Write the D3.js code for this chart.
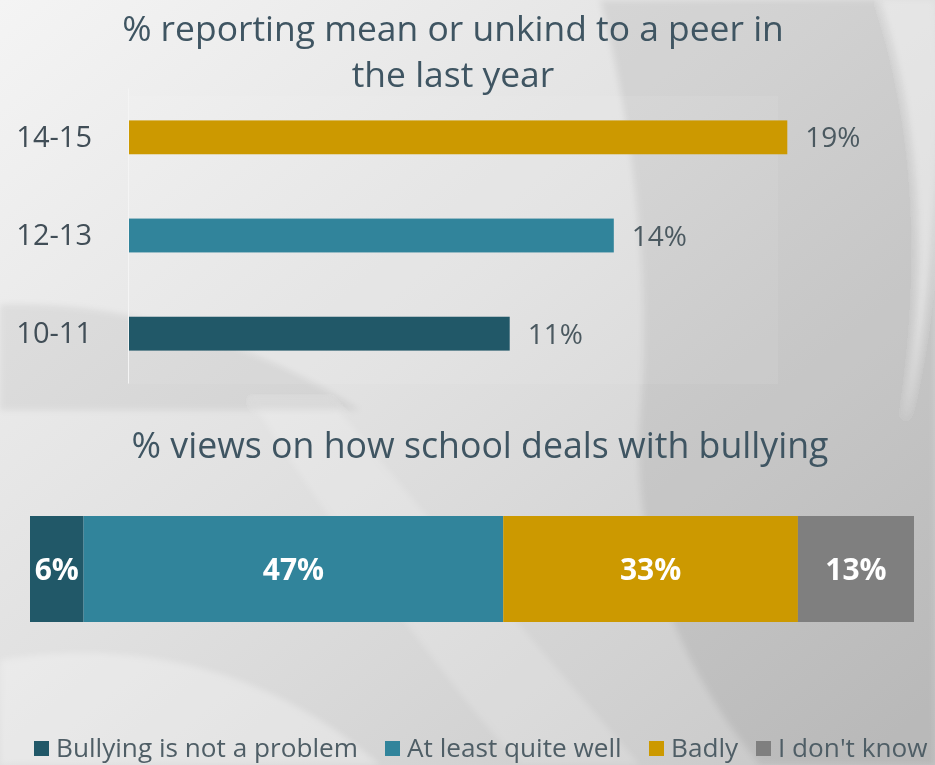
<!DOCTYPE html>
<html>
<head>
<meta charset="utf-8">
<script src="https://cdn.jsdelivr.net/npm/d3@7/dist/d3.min.js"></script>
<style>
  html, body { margin: 0; padding: 0; background: #e4e4e4; }
  svg { display: block; }
  text { font-family: "Open Sans", "Noto Sans", sans-serif; }
</style>
</head>
<body>
<svg id="chart" width="935" height="765"></svg>
<script>
// ---- data ----
const ageGroups = ["14-15", "12-13", "10-11"];
const meanToPeer = [19, 14, 11];
const ageColors = ["#CC9900", "#31849B", "#215868"];

const viewCategories = ["Bullying is not a problem", "At least quite well", "Badly", "I don't know"];
const viewShares = [6, 47, 33, 13];
const viewColors = ["#215868", "#31849B", "#CC9900", "#7F7F7F"];

const titleTop = ["% reporting mean or unkind to a peer in", "the last year"];
const titleBottom = "% views on how school deals with bullying";

const W = 935, H = 765;
const svg = d3.select("#chart");
const defs = svg.append("defs");

// ---- background: soft grey gradient with sweeping curves ----
const bg = defs.append("linearGradient").attr("id", "bg")
  .attr("x1", "0").attr("y1", "0").attr("x2", "1").attr("y2", "1");
bg.append("stop").attr("offset", "0").attr("stop-color", "#f4f4f4");
bg.append("stop").attr("offset", "0.45").attr("stop-color", "#e1e1e1");
bg.append("stop").attr("offset", "1").attr("stop-color", "#c6c6c6");
svg.append("rect").attr("width", W).attr("height", H).attr("fill", "url(#bg)");

const blur = defs.append("filter").attr("id", "soft").attr("x", "-10%").attr("y", "-10%")
  .attr("width", "120%").attr("height", "120%");
blur.append("feGaussianBlur").attr("stdDeviation", 3);

const swoosh = svg.append("g").attr("filter", "url(#soft)");
// darker region on the right of the big arc
swoosh.append("path")
  .attr("d", "M600,0 C640,150 650,300 640,420 C630,560 690,680 760,765 L935,765 L935,0 Z")
  .attr("fill", "#000").attr("opacity", 0.07);
// bright thin arc near the right edge
swoosh.append("path")
  .attr("d", "M880,0 C920,120 930,260 905,420 C935,300 940,150 935,0 Z")
  .attr("fill", "#fff").attr("opacity", 0.45);
// light diagonal band through the lower middle
swoosh.append("path")
  .attr("d", "M250,400 C330,520 420,650 520,765 L640,765 C540,650 430,520 330,400 Z")
  .attr("fill", "#fff").attr("opacity", 0.18);
// darker wedge at the lower left of the upper chart
swoosh.append("path")
  .attr("d", "M0,305 C120,300 250,340 360,410 L0,410 Z")
  .attr("fill", "#000").attr("opacity", 0.06);
// pale arc at the bottom left
swoosh.append("path")
  .attr("d", "M0,660 C120,640 260,660 380,765 L0,765 Z")
  .attr("fill", "#fff").attr("opacity", 0.3);

// ---- helper: size a text so its width matches a target ----
function fitWidth(sel, target) {
  const s = +sel.attr("font-size");
  const w = sel.node().getComputedTextLength();
  sel.attr("font-size", (s * target / w).toFixed(2));
  return sel;
}

// ---- upper chart: horizontal bars by age group ----
const titleColor = "#3f5562";
let titleSize = 32;
titleTop.forEach((line, i) => {
  const t = svg.append("text")
    .attr("x", 453).attr("y", 41 + i * 46)
    .attr("text-anchor", "middle")
    .attr("font-size", titleSize).attr("fill", titleColor)
    .text(line);
  if (i === 0) { fitWidth(t, 662); titleSize = +t.attr("font-size"); }
});

const x1 = d3.scaleLinear().domain([0, 20]).range([128, 822]);
const y1 = d3.scaleBand().domain(ageGroups).range([88, 383])
  .paddingInner(0.655).paddingOuter(0.33);

// plot area
svg.append("rect")
  .attr("x", x1(0)).attr("y", 96).attr("width", 650).attr("height", 288)
  .attr("fill", "#fff").attr("opacity", 0.07);

const upper = svg.append("g");
upper.selectAll("rect.bar")
  .data(ageGroups)
  .join("rect").attr("class", "bar")
  .attr("x", x1(0))
  .attr("y", d => y1(d))
  .attr("width", (d, i) => x1(meanToPeer[i]) - x1(0))
  .attr("height", y1.bandwidth())
  .attr("fill", (d, i) => ageColors[i]);

upper.selectAll("text.val")
  .data(ageGroups)
  .join("text").attr("class", "val")
  .attr("x", (d, i) => x1(meanToPeer[i]) + 18)
  .attr("y", d => y1(d) + y1.bandwidth() / 2)
  .attr("dy", "0.36em")
  .attr("font-size", 28).attr("fill", "#4b5960")
  .text((d, i) => meanToPeer[i] + "%");

const yAxis = svg.append("g")
  .attr("transform", `translate(${x1(0)},0)`)
  .call(d3.axisLeft(y1).tickSize(0).tickPadding(36));
yAxis.select(".domain").attr("stroke", "#f4f4f4").attr("stroke-width", 1);
yAxis.selectAll("text")
  .attr("font-family", "\"Open Sans\", sans-serif")
  .attr("font-size", 29).attr("fill", "#414e57");

// ---- lower chart: one stacked bar of views ----
const t2 = svg.append("text")
  .attr("x", 480).attr("y", 458)
  .attr("text-anchor", "middle")
  .attr("font-size", 32).attr("fill", titleColor)
  .text(titleBottom);
fitWidth(t2, 697);

const starts = [];
viewShares.reduce((acc, v, i) => { starts[i] = acc; return acc + v; }, 0);
const total = d3.sum(viewShares);
const x2 = d3.scaleLinear().domain([0, total]).range([30, 914]);
const barTop = 516, barH = 106;

const lower = svg.append("g");
lower.selectAll("rect.seg")
  .data(viewCategories)
  .join("rect").attr("class", "seg")
  .attr("x", (d, i) => x2(starts[i]))
  .attr("y", barTop)
  .attr("width", (d, i) => x2(starts[i] + viewShares[i]) - x2(starts[i]))
  .attr("height", barH)
  .attr("fill", (d, i) => viewColors[i]);

lower.selectAll("text.seglab")
  .data(viewCategories)
  .join("text").attr("class", "seglab")
  .attr("x", (d, i) => x2(starts[i] + viewShares[i] / 2))
  .attr("y", barTop + barH / 2)
  .attr("dy", "0.36em")
  .attr("text-anchor", "middle")
  .attr("font-size", 30).attr("font-weight", 700)
  .attr("fill", "#ffffff")
  .text((d, i) => viewShares[i] + "%");

// ---- legend: swatch + label per category, along the bottom edge ----
const legend = svg.append("g");
const legendBase = 757;
const legendSwatchX = [34, 385, 649, 756];
const probe = legend.append("text").attr("font-size", 26).text(viewCategories[0]);
fitWidth(probe, 302);
const legendSize = +probe.attr("font-size");
probe.remove();
viewCategories.forEach((name, i) => {
  const lx = legendSwatchX[i];
  legend.append("rect")
    .attr("x", lx).attr("y", legendBase - 16)
    .attr("width", 15).attr("height", 15)
    .attr("fill", viewColors[i]);
  legend.append("text")
    .attr("x", lx + 22).attr("y", legendBase)
    .attr("font-size", legendSize).attr("fill", "#4f5e66")
    .text(name);
});
</script>
</body>
</html>
